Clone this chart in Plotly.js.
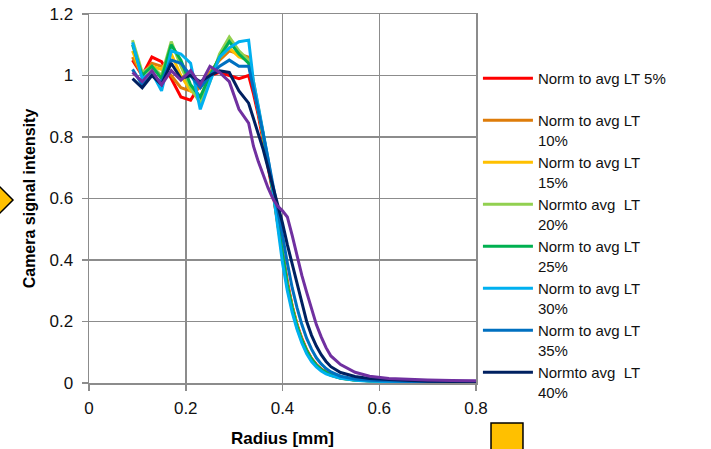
<!DOCTYPE html>
<html><head><meta charset="utf-8">
<script src="https://cdn.plot.ly/plotly-3.0.1.min.js"></script>
<style>html,body{margin:0;padding:0;background:#fff}</style>
</head><body><div id="chart" style="width:711px;height:449px"></div>
<script>
const radius = [0.09,0.11,0.13,0.15,0.17,0.19,0.21,0.23,0.25,0.27,0.29,0.31,0.33,
  0.34,0.35,0.36,0.37,0.38,0.39,0.40,0.41,0.42,0.43,0.44,0.45,0.46,0.47,0.48,0.49,0.50,
  0.52,0.55,0.58,0.62,0.66,0.70,0.75,0.80];

const lt5 = [1.05,1.00,1.06,1.045,0.99,0.93,0.92,0.97,1.00,1.01,1.00,0.99,1.00,
  0.94,0.87,0.79,0.71,0.62,0.52,0.42,0.33,0.25,0.19,0.145,0.108,0.08,0.06,0.045,0.035,0.027,
  0.017,0.010,0.007,0.005,0.004,0.003,0.003,0.002];
const lt10 = [1.06,1.00,1.04,1.03,1.00,0.96,0.95,0.96,1.01,1.05,1.08,1.07,1.06,
  0.98,0.90,0.81,0.72,0.63,0.52,0.42,0.32,0.25,0.19,0.14,0.105,0.078,0.058,0.044,0.034,0.026,
  0.016,0.010,0.007,0.005,0.004,0.003,0.003,0.002];
const lt15 = [1.08,1.00,1.03,1.02,1.07,1.00,0.95,0.93,1.00,1.06,1.09,1.06,1.05,
  0.97,0.89,0.80,0.72,0.63,0.52,0.41,0.32,0.245,0.185,0.14,0.103,0.077,0.057,0.043,0.033,0.026,
  0.016,0.010,0.007,0.005,0.004,0.003,0.002,0.002];
const lt20 = [1.115,1.01,1.03,1.00,1.11,1.03,0.96,0.91,0.98,1.07,1.125,1.08,1.05,
  0.97,0.89,0.81,0.72,0.63,0.52,0.41,0.31,0.24,0.18,0.135,0.10,0.075,0.056,0.042,0.032,0.025,
  0.015,0.009,0.006,0.004,0.003,0.003,0.002,0.002];
const lt25 = [1.10,1.00,1.03,0.99,1.10,1.05,0.97,0.93,1.00,1.06,1.11,1.07,1.04,
  0.97,0.89,0.81,0.72,0.63,0.53,0.42,0.32,0.245,0.185,0.14,0.105,0.078,0.058,0.044,0.034,0.026,
  0.016,0.010,0.007,0.005,0.004,0.003,0.002,0.002];
const lt30 = [1.108,0.99,1.01,0.95,1.08,1.07,1.04,0.89,0.98,1.06,1.09,1.11,1.115,
  0.98,0.90,0.82,0.73,0.63,0.51,0.39,0.30,0.23,0.175,0.13,0.095,0.07,0.052,0.039,0.03,0.024,
  0.015,0.009,0.006,0.004,0.003,0.003,0.002,0.002];
const lt35 = [1.02,0.97,1.00,0.98,1.05,1.04,1.00,0.96,1.00,1.03,1.05,1.03,1.03,
  0.96,0.89,0.81,0.73,0.65,0.57,0.48,0.39,0.31,0.245,0.19,0.145,0.11,0.082,0.062,0.047,0.036,
  0.022,0.013,0.009,0.006,0.005,0.004,0.003,0.003];
const lt40 = [0.99,0.96,1.00,0.97,1.04,0.99,1.00,0.98,1.00,1.015,1.01,0.95,0.91,
  0.86,0.81,0.76,0.70,0.64,0.58,0.52,0.45,0.385,0.32,0.255,0.20,0.155,0.12,0.092,0.07,0.053,
  0.034,0.021,0.015,0.011,0.008,0.006,0.005,0.004];
const lt45 = [1.01,0.98,1.016,0.97,1.016,0.985,1.016,0.97,1.03,1.01,0.98,0.89,0.845,
  0.77,0.72,0.675,0.635,0.60,0.575,0.56,0.54,0.48,0.41,0.35,0.295,0.24,0.19,0.15,0.115,0.088,
  0.06,0.035,0.022,0.015,0.012,0.010,0.008,0.007];

const seriesNames = ["Norm to avg LT 5%<br> ","Norm to avg LT<br>10%","Norm to avg LT<br>15%",
  "Normto avg  LT<br>20%","Norm to avg LT<br>25%","Norm to avg LT<br>30%",
  "Norm to avg LT<br>35%","Normto avg  LT<br>40%","Norm to avg LT 45%"];
const seriesValues = [lt5,lt10,lt15,lt20,lt25,lt30,lt35,lt40,lt45];
const seriesColors = ["#FF0000","#DE7C0A","#FFC000","#92D050","#00B050","#00B0F0","#0070C0","#002060","#7030A0"];
const inLegend = [true,true,true,true,true,true,true,true,false];

const FONT = "Liberation Sans, Arial, sans-serif";
const traces = seriesValues.map((v,i)=>({
  type:"scatter", mode:"lines", x: radius, y: v, name: seriesNames[i],
  showlegend: inLegend[i],
  line:{color: seriesColors[i], width:3}
}));

const gridC = "#8c8c8c";
const layout = {
  width:711, height:449,
  margin:{l:89, r:235, t:14, b:66},
  paper_bgcolor:"#fff", plot_bgcolor:"#fff",
  font:{family:FONT, color:"#111"},
  xaxis:{range:[0,0.8], tick0:0, dtick:0.2, showgrid:true, gridcolor:gridC, gridwidth:1.5,
    showline:true, mirror:true, linecolor:gridC, linewidth:1.5, zeroline:false,
    ticks:"outside", ticklen:6, tickcolor:gridC, tickwidth:1.5, ticklabelstandoff:3,
    tickfont:{size:17, family:FONT, color:"#111"},
    title:{text:"Radius [mm]", font:{size:17, family:FONT, weight:"bold", color:"#000"}, standoff:15}},
  yaxis:{range:[0,1.2], tick0:0, dtick:0.2, showgrid:true, gridcolor:gridC, gridwidth:1.5,
    showline:true, mirror:true, linecolor:gridC, linewidth:1.5, zeroline:false,
    ticks:"outside", ticklen:6, tickcolor:gridC, tickwidth:1.5, ticklabelstandoff:5,
    tickfont:{size:17, family:FONT, color:"#111"},
    title:{text:"Camera signal intensity", font:{size:16, family:FONT, weight:"bold", color:"#000"}, standoff:10}},
  legend:{x:1.005, xanchor:"left", y:0.87, yanchor:"top", valign:"top", itemwidth:50,
    font:{size:15, family:FONT, color:"#111"}, bgcolor:"rgba(0,0,0,0)", tracegroupgap:0},
  shapes:[
    {type:"path", xref:"paper", yref:"paper",
     path:"M -0.1964 0.4959 L -0.2326 0.5339 L -0.2687 0.4959 L -0.2326 0.458 Z",
     fillcolor:"#FFC000", line:{color:"#000", width:1.5}},
    {type:"rect", xref:"paper", yref:"paper", x0:1.0388, x1:1.1214, y0:-0.195, y1:-0.1084,
     fillcolor:"#FFC000", line:{color:"#000", width:1.5}}
  ],
  showlegend:true
};
Plotly.newPlot("chart", traces, layout, {displayModeBar:false, staticPlot:true});
</script></body></html>
